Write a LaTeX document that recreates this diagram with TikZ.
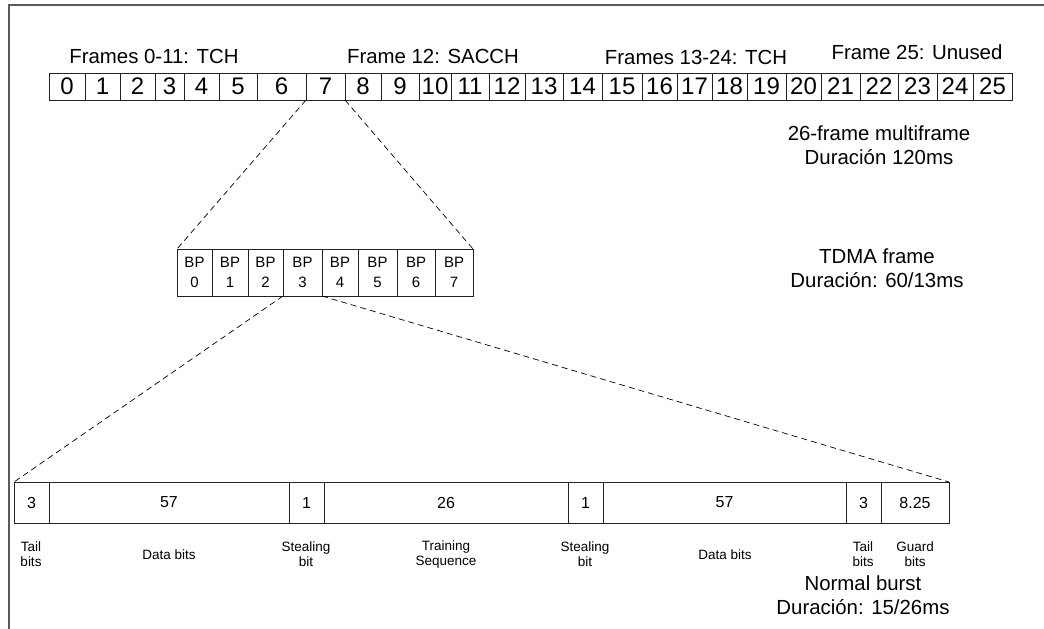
\documentclass[tikz,border=0pt]{standalone}
\usepackage{fontspec}
\setmainfont{Liberation Sans}
\usetikzlibrary{positioning}
\definecolor{framegray}{HTML}{5A5A5A}
\definecolor{boxline}{HTML}{222222}

\begin{document}
\begin{tikzpicture}[x=1pt, y=-1pt,
    every node/.style={font=\fontsize{20.4}{24}\selectfont, inner sep=0pt, outer sep=0pt, align=center},
    cell/.style={rectangle, draw=boxline, line width=0.8pt, minimum height=27pt, font=\fontsize{24}{26}\selectfont},
    slot/.style={rectangle, draw=boxline, line width=0.8pt, minimum height=47pt, align=center, font=\fontsize{15}{20}\selectfont},
    field/.style={rectangle, draw=boxline, line width=0.8pt, minimum height=41pt, font=\fontsize{16}{18}\selectfont},
    blab/.style={font=\fontsize{13.5}{15}\selectfont, align=center},
    zoomline/.style={line width=0.7pt, dash pattern=on 6pt off 4pt}
]
\useasboundingbox (0,0) rectangle (1044,629);
\draw[framegray, line width=1.3pt] (9,629) -- (9,5) -- (1044,5);

% 26-frame multiframe
\foreach \i/\a/\b in {0/49/85, 1/85/120, 2/120/155, 3/155/184, 4/184/219, 5/219/257,
    6/257/306, 7/306/345, 8/345/381, 9/381/419, 10/419/451, 11/451/489, 12/489/525,
    13/525/563, 14/563/602, 15/602/642, 16/642/677, 17/677/712, 18/712/747,
    19/747/786, 20/786/821, 21/821/860, 22/860/898, 23/898/937, 24/937/973, 25/973/1012} {
  \pgfmathsetmacro\w{\b-\a}
  \pgfmathsetmacro\c{(\a+\b)/2}
  \node[cell, minimum width=\w pt] (mf\i) at (\c,86.5) {\i};
}
\node (tch1)  at (154,56) {Frames 0-11: TCH};
\node (sacch) at (433,56) {Frame 12: SACCH};
\node (tch2)  at (696,57) {Frames 13-24: TCH};
\node (idle)  at (917,52) {Frame 25: Unused};
\node (mfinfo) at (879,145) {26-frame multiframe\\Duración 120ms};

% TDMA frame
\foreach \i/\a/\b in {0/177/212, 1/212/248, 2/248/283, 3/283/322, 4/322/358,
    5/358/397, 6/397/435, 7/435/473} {
  \pgfmathsetmacro\w{\b-\a}
  \pgfmathsetmacro\c{(\a+\b)/2}
  \node[slot, minimum width=\w pt] (bp\i) at (\c,272.5) {BP\\\i};
}
\node (tdmainfo) at (877,268) {TDMA frame\\Duración: 60/13ms};

% Normal burst
\foreach \i/\a/\b/\n in {0/14/49/3, 1/49/289/57, 2/289/324/1, 3/324/568/26,
    4/568/603/1, 5/603/846/57, 6/846/881/3, 7/881/949/8.25} {
  \pgfmathsetmacro\w{\b-\a}
  \pgfmathsetmacro\c{(\a+\b)/2}
  \node[field, minimum width=\w pt] (nb\i) at (\c,502.5) {\n};
}
\foreach \i/\x/\t in {0/31/{Tail\\bits}, 1/169/{Data bits}, 2/306/{Stealing\\bit},
    3/446/{Training\\Sequence}, 4/585/{Stealing\\bit}, 5/725/{Data bits},
    6/863/{Tail\\bits}, 7/915/{Guard\\bits}}
  \node[blab] (lb\i) at (\x,554.5) {\t};
\node (nbinfo) at (863,595) {Normal burst\\Duración: 15/26ms};

% zoom lines
\draw[zoomline] (mf7.south west) -- (bp0.north west);
\draw[zoomline] (mf7.south east) -- (bp7.north east);
\draw[zoomline] (bp3.south west) -- (nb0.north west);
\draw[zoomline] (bp3.south east) -- (nb7.north east);
\end{tikzpicture}
\end{document}
